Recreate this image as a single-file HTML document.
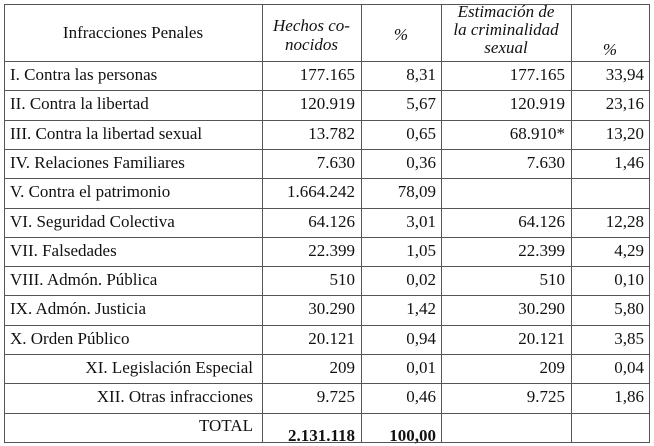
<!DOCTYPE html>
<html><head><meta charset="utf-8"><style>
body{margin:0;background:#fff;width:654px;height:446px;overflow:hidden;font-family:"Liberation Serif","Times New Roman",serif;color:#111;}
.t{position:absolute;font-size:17px;white-space:nowrap;line-height:18px;}
.h{position:absolute;background:#555;height:1px;}
.v{position:absolute;background:#555;width:1px;top:4px;height:438px;}
.r{text-align:right}.c{text-align:center}.i{font-style:italic}
</style></head><body>
<div id="tbl">
<div class="h" style="left:4px;width:646px;top:4px"></div>
<div class="v" style="left:4px"></div>
<div class="v" style="left:262px"></div>
<div class="v" style="left:361px"></div>
<div class="v" style="left:441px"></div>
<div class="v" style="left:571px"></div>
<div class="v" style="left:649px"></div>
<div class="t c" style="left:4px;width:258px;top:24px">Infracciones Penales</div>
<div class="t c i" style="left:262px;width:99px;top:16px;line-height:19px">Hechos co-<br>nocidos</div>
<div class="t c i" style="left:361px;width:80px;top:26px">%</div>
<div class="t c i" style="left:441px;width:130px;top:3px;line-height:18px">Estimación de<br>la criminalidad<br>sexual</div>
<div class="t c i" style="left:571px;width:78px;top:41px">%</div>
</div>
<script>
const names=["I. Contra las personas","II. Contra la libertad","III. Contra la libertad sexual","IV. Relaciones Familiares","V. Contra el patrimonio","VI. Seguridad Colectiva","VII. Falsedades","VIII. Admón. Pública","IX. Admón. Justicia","X. Orden Público","XI. Legislación Especial","XII. Otras infracciones"];
const hechos=["177.165","120.919","13.782","7.630","1.664.242","64.126","22.399","510","30.290","20.121","209","9.725"];
const pct=["8,31","5,67","0,65","0,36","78,09","3,01","1,05","0,02","1,42","0,94","0,01","0,46"];
const est=["177.165","120.919","68.910*","7.630","","64.126","22.399","510","30.290","20.121","209","9.725"];
const pct2=["33,94","23,16","13,20","1,46","","12,28","4,29","0,10","5,80","3,85","0,04","1,86"];
const tbl=document.getElementById('tbl');
const top0=61,rh=29.3;
function add(cls,style,txt,name){const d=document.createElement('div');d.className='t '+cls;d.style.cssText=style;d.textContent=txt;


tbl.appendChild(d);}
function line(y){const d=document.createElement('div');d.className='h';d.style.cssText='left:4px;width:646px;top:'+y+'px';


tbl.appendChild(d);}
for(let i=0;i<=13;i++)line(Math.round(top0+i*rh));
names.forEach((n,i)=>{const y=Math.round(top0+i*rh+5);
if(i>=10)add('r','left:4px;width:249px;top:'+y+'px',n,'row-label');else add('','left:10px;top:'+y+'px',n,'row-label');
add('r','left:262px;width:93px;top:'+y+'px',hechos[i],'hechos-value');
add('r','left:361px;width:75px;top:'+y+'px',pct[i],'pct-value');
add('r','left:441px;width:124px;top:'+y+'px',est[i],'estimacion-value');
add('r','left:571px;width:73px;top:'+y+'px',pct2[i],'pct2-value');});
const ty=Math.round(top0+12*rh);
add('r','left:4px;width:249px;top:'+(ty+4)+'px','TOTAL','total-label');
add('r','left:262px;width:93px;top:'+(ty+14)+'px;font-weight:bold','2.131.118','total-hechos');
add('r','left:361px;width:75px;top:'+(ty+14)+'px;font-weight:bold','100,00','total-pct');
</script>
</body></html>
